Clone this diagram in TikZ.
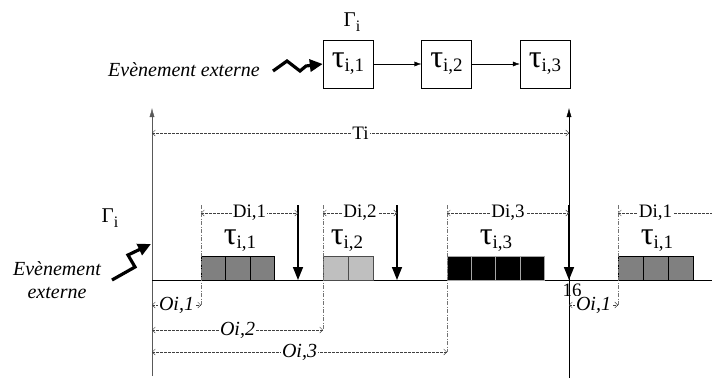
\documentclass[tikz,border=0pt]{standalone}
\usepackage{fontspec}
\setmainfont{Liberation Serif}
\usetikzlibrary{arrows.meta}

\newcommand{\tache}[1]{{\fontsize{32}{32}\selectfont τ}\raisebox{-4pt}{\fontsize{19}{19}\selectfont i,#1}}

\begin{document}
\begin{tikzpicture}[x=1pt,y=-1pt]

\tikzset{
  lbl/.style      = {text=black, font=\fontsize{19}{19}\selectfont, inner sep=1pt},
  ilbl/.style     = {text=black, font=\fontsize{20}{20}\selectfont\itshape, inner sep=1pt},
  tachebox/.style = {draw, minimum width=50pt, minimum height=48pt, inner sep=0pt},
  lien/.style     = {-{Latex[length=7pt,width=5pt]}},
  axe/.style      = {-{Latex[length=9pt,width=5pt]}},
  echeance/.style = {line width=1.5pt, -{Triangle[length=13pt,width=10pt]}},
  eclair/.style   = {line width=3.2pt, line join=miter, -{Triangle[length=13pt,width=12pt]}},
  cote/.style     = {black!75, dash pattern=on 2.5pt off 1.5pt, {Straight Barb[length=3pt,width=6pt]}-{Straight Barb[length=3pt,width=6pt]}},
  repere/.style   = {black!55, dash pattern=on 4pt off 1.5pt on 1pt off 1.5pt},
  slotA/.style    = {draw=black, fill=black!50},
  slotB/.style    = {draw=black!70, fill=black!25},
  slotC/.style    = {draw=black!35, fill=black}
}

\useasboundingbox (0,0) rectangle (712,378);

% graphe de taches
\node[lbl] (gamma1) at (352,22) {\fontsize{21}{21}\selectfont Γ\raisebox{-5pt}{\fontsize{16}{16}\selectfont i}};
\node[tachebox] (t1) at (348,64) {\tache{1}};
\node[tachebox] (t2) at (446.5,64) {\tache{2}};
\node[tachebox] (t3) at (545,64) {\tache{3}};
\node[ilbl] (ev1) at (184,70) {Evènement externe};

\draw[lien] (t1) -- (t2);
\draw[lien] (t2) -- (t3);
\draw[eclair] (273,71) -- (287,61) -- (300,71) -- (306,66) -- (t1.west);

% axes
\coordinate (orig) at (152,280);
\coordinate (xfin) at (712,280);
\coordinate (ybas) at (152,376);
\coordinate (yhaut) at (152,108);
\coordinate (pbas) at (569,378);
\coordinate (phaut) at (569,108);

\draw[black!65, axe] (ybas) -- (yhaut);
\draw[axe] (pbas) -- (phaut);
\draw (orig) -- (xfin);

\node[lbl] (gamma2) at (110,218) {\fontsize{21}{21}\selectfont Γ\raisebox{-5pt}{\fontsize{16}{16}\selectfont i}};
\node[ilbl, align=center] (ev2) at (57,280) {Evènement\\[3pt]externe};
\draw[eclair] (112,280) -- (135,267) -- (128,255) -- (151,244);

% periode
\coordinate (ti0) at (152,133);
\coordinate (ti1) at (569,133);
\draw[cote] (ti0) -- node[lbl, fill=white] (tilbl) {Ti} (ti1);

% blocs d'execution
\foreach \x in {0,1,2} \draw[slotA] (201+24.5*\x,256) rectangle ++(24.5,24);
\foreach \x in {0,1} \draw[slotB] (323+25*\x,256) rectangle ++(25,24);
\foreach \x in {0,1,2,3} \draw[slotC] (447+24.25*\x,256) rectangle ++(24.25,24);
\foreach \x in {0,1,2} \draw[slotA] (618+25*\x,256) rectangle ++(25,24);

\node (tau1) at (240,241) {\tache{1}};
\node (tau2) at (347,241) {\tache{2}};
\node (tau3) at (496,241) {\tache{3}};
\node (tau4) at (657,241) {\tache{1}};

% reperes des dates de reveil
\draw[repere] (201,205) -- (201,305);
\draw[repere] (323,205) -- (323,330);
\draw[repere] (447,205) -- (447,352);
\draw[repere] (618,205) -- (618,305);

% echeances
\draw[echeance] (298,205) -- (298,280);
\draw[echeance] (397,205) -- (397,280);
\draw[echeance] (569,205) -- (569,280);

\draw[cote] (201,213) -- node[lbl, fill=white] (d1) {Di,1} (298,213);
\draw[cote] (323,213) -- node[lbl, fill=white] (d2) {Di,2} (397,213);
\draw[cote] (447,213) -- node[lbl, fill=white] (d3) {Di,3} (569,213);
\draw[cote, {Straight Barb[length=3pt,width=6pt]}-] (618,213) -- node[lbl, fill=white, pos=0.4] (d4) {Di,1} (712,213);

\node[lbl] (seize) at (572,290) {16};

% decalages
\draw[cote] (152,305) -- node[ilbl, fill=white] (o1) {Oi,1} (201,305);
\draw[cote] (152,330) -- node[ilbl, fill=white] (o2) {Oi,2} (323,330);
\draw[cote] (152,352) -- node[ilbl, fill=white] (o3) {Oi,3} (447,352);
\draw[cote] (569,305) -- node[ilbl, fill=white] (o4) {Oi,1} (618,305);

\end{tikzpicture}
\end{document}
